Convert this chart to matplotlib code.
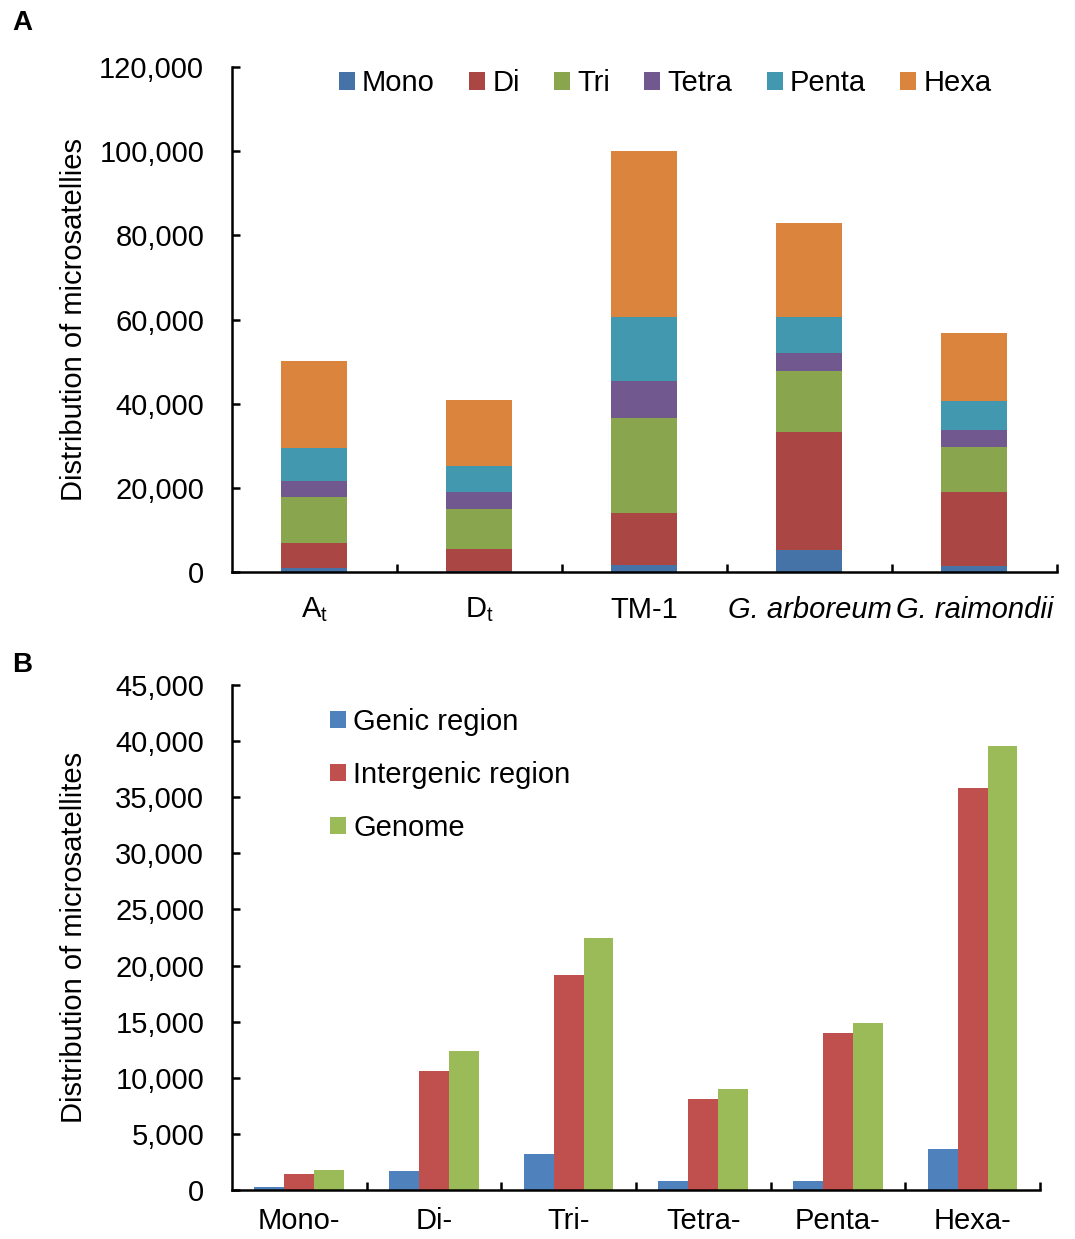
import numpy as np
import matplotlib
matplotlib.use("Agg")
import matplotlib.pyplot as plt
from matplotlib.ticker import FuncFormatter

plt.rcParams['font.family'] = ['Liberation Sans', 'DejaVu Sans']
plt.rcParams['mathtext.fontset'] = 'custom'
plt.rcParams['mathtext.rm'] = 'Liberation Sans'

# Panel A: stacked counts per genome
genomes = [r'A$_{\rm t}$', r'D$_{\rm t}$', 'TM-1', 'G. arboreum', 'G. raimondii']
motif_names = ['Mono', 'Di', 'Tri', 'Tetra', 'Penta', 'Hexa']
mono = [900, 200, 1600, 5300, 1400]
di = [6000, 5300, 12400, 27900, 17700]
tri = [10900, 9400, 22500, 14500, 10500]
tetra = [3900, 4100, 9000, 4400, 4200]
penta = [7800, 6100, 15000, 8500, 6900]
hexa = [20700, 15800, 39500, 22400, 16000]
colors_a = ['#4572A7', '#AA4643', '#89A54E', '#71588F', '#4198AF', '#DB843D']

# Panel B: region breakdown by motif type
motif_types = ['Mono-', 'Di-', 'Tri-', 'Tetra-', 'Penta-', 'Hexa-']
genic = [300, 1700, 3200, 800, 830, 3700]
intergenic = [1400, 10600, 19200, 8100, 14000, 35800]
genome = [1800, 12400, 22500, 9000, 14900, 39600]
colors_b = ['#4F81BD', '#C0504D', '#9BBB59']

FS = 21
fmt = FuncFormatter(lambda v, p: f'{v:,.0f}')

fig = plt.figure(figsize=(10.75, 12.39), dpi=100)
axA = fig.add_axes([0.2158, 0.5383, 0.7674, 0.4076])
axB = fig.add_axes([0.2158, 0.0395, 0.7516, 0.4076])


def style(ax, n, ymax, step, ylabel, xpad):
    for s in ['top', 'right']:
        ax.spines[s].set_visible(False)
    for s in ['left', 'bottom']:
        ax.spines[s].set_linewidth(1.8)
    ax.set_xlim(-0.5, n - 0.5)
    ax.set_ylim(0, ymax)
    ax.set_yticks(np.arange(0, ymax + 1, step))
    ax.yaxis.set_major_formatter(fmt)
    ax.tick_params(axis='y', direction='in', length=6, width=1.8, pad=20, labelsize=FS)
    ax.set_xticks(np.arange(n))
    ax.set_xticks(np.arange(0.5, n, 1), minor=True)
    ax.tick_params(axis='x', which='major', length=0, pad=xpad, labelsize=FS)
    ax.tick_params(axis='x', which='minor', direction='in', length=6, width=1.8)
    ax.set_ylabel(ylabel, fontsize=FS)
    # same left position (in pixels) for both panels
    w_px = ax.get_position().width * fig.get_figwidth() * fig.dpi
    ax.yaxis.set_label_coords(-(232 - 88) / w_px, 0.5)


# --- Panel A ---
x = np.arange(len(genomes))
bottom = np.zeros(len(genomes))
for name, vals, c in zip(motif_names, [mono, di, tri, tetra, penta, hexa], colors_a):
    axA.bar(x, vals, 0.4, bottom=bottom, color=c, label=name)
    bottom += np.array(vals)
style(axA, len(genomes), 120000, 20000, 'Distribution of microsatellies', 17)
axA.set_xticklabels(genomes)
for lbl in axA.get_xticklabels()[3:]:
    lbl.set_fontstyle('italic')
axA.legend(loc='center', bbox_to_anchor=(0.525, 0.968), ncol=6, frameon=False,
           fontsize=FS, handlelength=0.55, handleheight=0.55, handletextpad=0.25,
           columnspacing=1.17, borderpad=0, borderaxespad=0)

# --- Panel B ---
xb = np.arange(len(motif_types))
w = 0.222
for i, (name, vals, c) in enumerate(zip(['Genic region', 'Intergenic region', 'Genome'],
                                         [genic, intergenic, genome], colors_b)):
    axB.bar(xb + (i - 1) * w, vals, w, color=c, label=name)
style(axB, len(motif_types), 45000, 5000, 'Distribution of microsatellites', 12)
axB.set_xticklabels(motif_types)
axB.legend(loc='upper left', bbox_to_anchor=(0.121, 0.955), frameon=False,
           fontsize=FS, handlelength=0.55, handleheight=0.55, handletextpad=0.25,
           labelspacing=0.86, borderpad=0, borderaxespad=0)

fig.text(0.011, 0.976, 'A', fontsize=20, fontweight='bold')
fig.text(0.011, 0.458, 'B', fontsize=20, fontweight='bold')

fig.savefig('out.png', dpi=100)
